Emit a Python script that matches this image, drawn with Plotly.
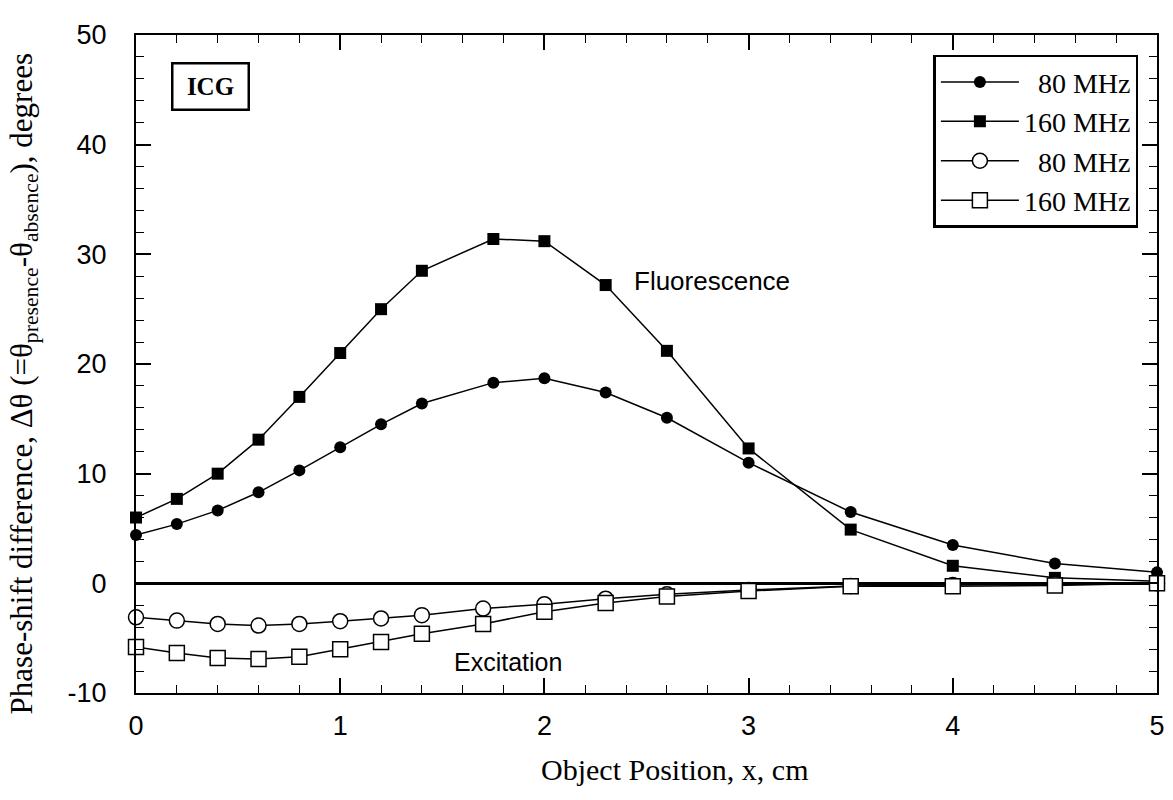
import plotly.graph_objects as go

# Object position (cm)
x_fluor = [0.0, 0.2, 0.4, 0.6, 0.8, 1.0, 1.2, 1.4, 1.75, 2.0, 2.3, 2.6, 3.0, 3.5, 4.0, 4.5, 5.0]
x_excit = [0.0, 0.2, 0.4, 0.6, 0.8, 1.0, 1.2, 1.4, 1.7, 2.0, 2.3, 2.6, 3.0, 3.5, 4.0, 4.5, 5.0]

# Fluorescence phase-shift differences (degrees)
fluor_80 = [4.4, 5.4, 6.65, 8.3, 10.3, 12.4, 14.5, 16.4, 18.3, 18.7, 17.4, 15.1, 11.0, 6.5, 3.5, 1.8, 1.0]
fluor_160 = [6.0, 7.7, 10.0, 13.1, 17.0, 21.0, 25.0, 28.5, 31.4, 31.2, 27.2, 21.2, 12.3, 4.9, 1.6, 0.5, 0.2]

# Excitation phase-shift differences (degrees)
excit_80 = [-3.1, -3.4, -3.7, -3.85, -3.7, -3.45, -3.2, -2.9, -2.3, -1.9, -1.4, -1.0, -0.6, -0.25, -0.15, -0.05, 0.0]
excit_160 = [-5.8, -6.35, -6.8, -6.9, -6.7, -6.0, -5.35, -4.6, -3.7, -2.6, -1.8, -1.2, -0.7, -0.27, -0.27, -0.2, 0.0]

legend_names = ["\u00a0\u00a080 MHz", "160 MHz", "\u00a0\u00a080 MHz", "160 MHz"]

y_tickvals = [-10, 0, 10, 20, 30, 40, 50]
y_ticktext = ["-10", "0", "10", "20", "30", "40", "50"]

x_title = "Object Position, x, cm"
y_title = ("Phase-shift difference, \u0394\u03b8 (=\u03b8<sub>presence</sub>"
           "-\u03b8<sub>absence</sub>), degrees")

fig = go.Figure()
line = dict(color="black", width=1.5)
fig.add_trace(go.Scatter(x=x_fluor, y=fluor_80, mode="lines+markers", name=legend_names[0],
                         line=line, marker=dict(symbol="circle", size=12, color="black"),
                         cliponaxis=False))
fig.add_trace(go.Scatter(x=x_fluor, y=fluor_160, mode="lines+markers", name=legend_names[1],
                         line=line, marker=dict(symbol="square", size=12, color="black"),
                         cliponaxis=False))
fig.add_trace(go.Scatter(x=x_excit, y=excit_80, mode="lines+markers", name=legend_names[2],
                         line=line, marker=dict(symbol="circle", size=15, color="white",
                                                line=dict(color="black", width=1.5)),
                         cliponaxis=False))
fig.add_trace(go.Scatter(x=x_excit, y=excit_160, mode="lines+markers", name=legend_names[3],
                         line=line, marker=dict(symbol="square", size=15, color="white",
                                                line=dict(color="black", width=1.5)),
                         cliponaxis=False))

tickfont = dict(family="Liberation Sans, Arial", size=27, color="black")
serif = "Liberation Serif, Times New Roman"

fig.update_xaxes(
    range=[0, 5.0], dtick=1, tick0=0,
    ticks="inside", ticklen=15, tickwidth=1.5, tickcolor="black",
    minor=dict(dtick=0.2, ticks="inside", ticklen=8, tickwidth=1.2, tickcolor="black"),
    showline=True, linewidth=2, linecolor="black", mirror="ticks",
    showgrid=False, zeroline=False,
    tickfont=tickfont, ticklabelstandoff=8,
)
fig.update_yaxes(
    range=[-10, 50], tickmode="array", tickvals=y_tickvals, ticktext=y_ticktext,
    ticks="inside", ticklen=15, tickwidth=1.5, tickcolor="black",
    minor=dict(dtick=2, tick0=0, ticks="inside", ticklen=8, tickwidth=1.2, tickcolor="black"),
    showline=True, linewidth=2, linecolor="black", mirror="ticks",
    showgrid=False, zeroline=True, zerolinewidth=3, zerolinecolor="black",
    tickfont=tickfont, ticklabelstandoff=22,
)

# axis titles
fig.add_annotation(x=0.527, y=-0.117, xref="paper", yref="paper", text=x_title,
                   showarrow=False, xanchor="center", yanchor="middle",
                   font=dict(family=serif, size=30, color="black"))
fig.add_annotation(x=-0.11, y=0.47, xref="paper", yref="paper", text=y_title,
                   showarrow=False, xanchor="center", yanchor="middle", textangle=-90,
                   font=dict(family=serif, size=31, color="black"))

fig.add_annotation(x=0.364, y=45.3, xref="x", yref="y", text="<b>ICG</b>", showarrow=False,
                   font=dict(family=serif, size=25, color="black"),
                   width=72, height=42, borderpad=1,
                   bordercolor="black", borderwidth=2.5, bgcolor="white")
fig.add_annotation(x=2.82, y=27.6, xref="x", yref="y", text="Fluorescence", showarrow=False,
                   font=dict(family="Liberation Sans, Arial", size=26, color="black"))
fig.add_annotation(x=1.82, y=-7.2, xref="x", yref="y", text="Excitation", showarrow=False,
                   font=dict(family="Liberation Sans, Arial", size=25, color="black"))

fig.update_layout(
    width=1173, height=800,
    margin=dict(l=136, r=8, t=35, b=107),
    paper_bgcolor="white", plot_bgcolor="white",
    showlegend=True,
    legend=dict(x=0.781, y=0.97, xanchor="left", yanchor="top",
                font=dict(family=serif, size=28, color="black"),
                bordercolor="black", borderwidth=2.5, bgcolor="white",
                itemwidth=78, tracegroupgap=0),
)

fig.write_html("out.html")
